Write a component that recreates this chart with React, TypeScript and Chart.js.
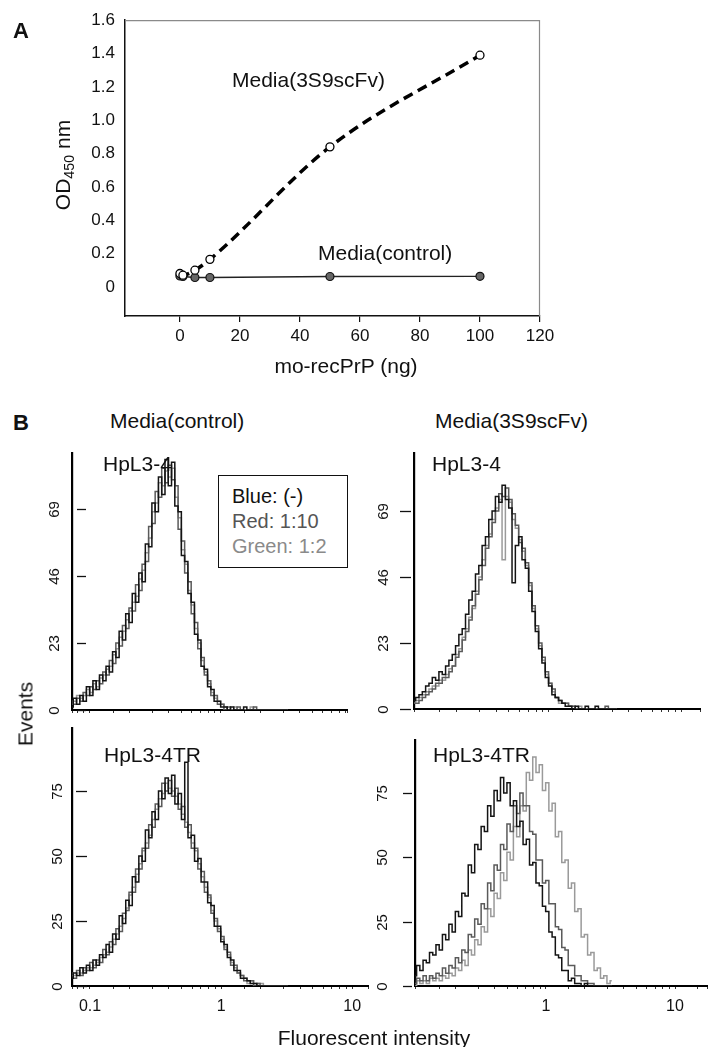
import React, { useEffect, useRef } from "react";
import { Chart, registerables } from "chart.js";

Chart.register(...registerables);

const FONT = "'Liberation Sans', Arial, Helvetica, sans-serif";
Chart.defaults.font.family = FONT;

// ---------- Panel A data ----------
const A_X = [0, 1, 5, 10, 50, 100];
const A_SCFV = [0.08, 0.07, 0.1, 0.165, 0.84, 1.39];
const A_CTRL = [0.065, 0.062, 0.056, 0.056, 0.062, 0.063];
const A_XTICKS = [0, 20, 40, 60, 80, 100, 120];
const A_YTICKS = [0, 0.2, 0.4, 0.6, 0.8, 1.0, 1.2, 1.4, 1.6];

// ---------- Panel B data (fluorescence channels, log scale) ----------
const CH = [
  0.0724, 0.0767, 0.0813, 0.0861, 0.0912, 0.0966, 0.1023, 0.1084, 0.1148, 0.1216,
  0.1288, 0.1365, 0.1445, 0.1531, 0.1622, 0.1718, 0.182, 0.1928, 0.2042, 0.2163,
  0.2291, 0.2427, 0.257, 0.2723, 0.2884, 0.3055, 0.3236, 0.3428, 0.3631, 0.3846,
  0.4074, 0.4315, 0.4571, 0.4842, 0.5129, 0.5433, 0.5754, 0.6095, 0.6457, 0.6839,
  0.7244, 0.7674, 0.8128, 0.861, 0.912, 0.9661, 1.0233, 1.0839, 1.1482, 1.2162,
  1.2882, 1.3646, 1.4454, 1.5311, 1.6218, 1.7179, 1.8197, 1.9275, 2.0417, 2.1627,
  2.2909, 2.4266, 2.5704, 2.7227, 2.884, 3.0549, 3.2359,
];

// Media(control), HpL3-4
const TL_BLUE = [
  1, 4, 2, 5, 3, 8, 5, 10, 7, 12,
  10, 15, 13, 20, 18, 27, 24, 33, 30, 40,
  37, 47, 44, 57, 56, 71, 68, 80, 74, 86,
  77, 85, 70, 68, 53, 51, 40, 37, 26, 24,
  15, 14, 8, 7, 3, 3, 1, 1, 0, 1,
  0, 0, 0, 1, 0, 0, 0, 0, 0, 0,
  0, 0, 0, 0, 0, 0, 0,
];
const TL_RED = [
  3, 2, 4, 3, 6, 5, 8, 7, 10, 9,
  13, 12, 17, 16, 23, 22, 29, 28, 35, 34,
  43, 41, 50, 51, 63, 64, 75, 73, 83, 78,
  84, 79, 77, 62, 58, 47, 44, 33, 30, 21,
  18, 12, 10, 5, 5, 2, 2, 0, 1, 0,
  0, 1, 0, 0, 0, 0, 1, 0, 0, 0,
  0, 0, 0, 0, 0, 0, 0,
];
const TL_GREEN = [
  2, 3, 5, 4, 5, 7, 6, 9, 8, 11,
  12, 14, 15, 19, 21, 25, 27, 31, 34, 37,
  39, 45, 48, 54, 59, 68, 71, 78, 77, 82,
  80, 83, 73, 66, 55, 50, 41, 36, 28, 23,
  17, 13, 9, 6, 4, 3, 2, 1, 0, 0,
  1, 0, 0, 0, 0, 1, 0, 0, 0, 0,
  0, 0, 0, 0, 0, 0, 0,
];

// Media(3S9scFv), HpL3-4
const TR_BLUE = [
  1, 1, 2, 1, 2, 3, 4, 5, 6, 8,
  9, 11, 10, 13, 12, 15, 17, 19, 22, 26,
  28, 33, 38, 41, 47, 50, 57, 60, 66, 69,
  74, 72, 78, 73, 70, 44, 57, 60, 52, 49,
  41, 34, 27, 21, 16, 11, 8, 5, 4, 3,
  2, 1, 1, 0, 1, 0, 0, 1, 0, 0,
  1, 0, 0, 0, 0, 0, 0,
];
const TR_RED = [
  0, 1, 1, 2, 1, 2, 2, 3, 4, 5,
  6, 7, 9, 9, 11, 11, 13, 15, 18, 20,
  24, 27, 31, 36, 40, 45, 50, 56, 60, 65,
  69, 75, 74, 77, 73, 68, 64, 58, 56, 51,
  44, 36, 29, 23, 18, 13, 9, 7, 4, 3,
  2, 2, 1, 1, 0, 0, 0, 0, 0, 0,
  0, 0, 0, 1, 0, 0, 0,
];
const TR_GREEN = [
  1, 0, 1, 1, 2, 2, 3, 4, 5, 6,
  7, 8, 8, 10, 10, 12, 14, 15, 19, 21,
  25, 28, 32, 35, 41, 46, 52, 57, 61, 66,
  70, 73, 52, 74, 72, 66, 63, 59, 55, 50,
  43, 35, 28, 22, 17, 12, 9, 6, 4, 2,
  2, 2, 1, 1, 0, 1, 0, 0, 0, 0,
  0, 0, 0, 0, 0, 0, 0,
];

// Media(control), HpL3-4TR
const BL_BLUE = [
  3, 5, 4, 7, 5, 8, 6, 10, 8, 12,
  11, 16, 13, 20, 18, 27, 24, 33, 31, 42,
  40, 50, 48, 60, 57, 67, 64, 75, 72, 80,
  74, 81, 70, 74, 64, 86, 57, 58, 48, 49,
  40, 40, 32, 31, 23, 23, 17, 16, 11, 10,
  6, 6, 3, 3, 2, 1, 1, 0, 0, 0,
  0, 0, 0, 0, 0, 0, 0,
];
const BL_RED = [
  5, 3, 6, 4, 7, 6, 9, 7, 10, 9,
  14, 12, 17, 16, 22, 21, 28, 29, 36, 36,
  45, 45, 53, 53, 62, 61, 70, 69, 78, 75,
  79, 73, 76, 68, 69, 61, 62, 53, 53, 45,
  44, 36, 35, 28, 26, 21, 19, 14, 13, 8,
  8, 5, 4, 2, 2, 2, 0, 1, 0, 0,
  0, 0, 0, 0, 0, 0, 0,
];
const BL_GREEN = [
  4, 4, 5, 5, 6, 7, 7, 8, 9, 11,
  12, 13, 15, 18, 20, 23, 26, 30, 35, 38,
  43, 47, 52, 55, 58, 64, 68, 72, 74, 78,
  76, 75, 73, 70, 66, 63, 59, 55, 52, 47,
  42, 38, 34, 29, 25, 22, 18, 15, 12, 9,
  7, 5, 4, 3, 1, 2, 1, 1, 1, 0,
  0, 0, 0, 0, 0, 0, 0,
];

// Media(3S9scFv), HpL3-4TR
const BR_BLUE = [
  3, 4, 3, 5, 4, 4, 8, 6, 10, 9,
  13, 12, 16, 14, 20, 18, 24, 21, 29, 27,
  36, 35, 47, 44, 55, 53, 62, 60, 70, 66,
  76, 72, 81, 75, 79, 70, 72, 62, 64, 55,
  57, 47, 48, 40, 39, 31, 29, 21, 19, 12,
  11, 6, 6, 2, 3, 1, 1, 0, 1, 0,
  0, 0, 0, 0, 0, 0, 0,
];
const BR_RED = [
  1, 1, 2, 1, 2, 1, 3, 2, 4, 2,
  4, 3, 5, 4, 7, 5, 8, 7, 11, 9,
  14, 13, 20, 19, 26, 24, 32, 30, 40, 37,
  47, 45, 55, 53, 63, 60, 70, 67, 75, 70,
  70, 60, 59, 49, 49, 40, 41, 32, 32, 23,
  22, 15, 14, 8, 8, 4, 4, 2, 2, 1,
  1, 0, 0, 0, 0, 0, 0,
];
const BR_GREEN = [
  0, 1, 0, 1, 1, 0, 2, 1, 2, 1,
  3, 2, 3, 2, 4, 3, 5, 4, 7, 6,
  10, 8, 14, 12, 18, 16, 23, 21, 30, 27,
  36, 34, 44, 41, 52, 49, 62, 58, 70, 68,
  83, 80, 89, 83, 86, 76, 79, 68, 71, 58,
  60, 48, 49, 38, 40, 29, 30, 19, 20, 12,
  13, 6, 7, 3, 4, 1, 2,
];

const TOP_YTICKS = [0, 23, 46, 69];
const BOT_YTICKS = [0, 25, 50, 75];

const C_BLUE = "#141414";
const C_RED = "#5a5a5a";
const C_GREEN = "#9a9a9a";

// ---------- plugins ----------
const yLabelPlugin = {
  id: "yLabels",
  afterDraw(chart: any, _args: any, opts: any) {
    const ys = chart.scales.y;
    const left = chart.chartArea.left;
    const ctx = chart.ctx as CanvasRenderingContext2D;
    ctx.save();
    ctx.strokeStyle = "#111";
    ctx.lineWidth = 1.3;
    ctx.fillStyle = "#111";
    ctx.font = `${opts.size}px ${FONT}`;
    ctx.textAlign = "center";
    ctx.textBaseline = "middle";
    for (const v of opts.ticks as number[]) {
      const py = Math.round(ys.getPixelForValue(v)) + 0.5;
      ctx.beginPath();
      ctx.moveTo(left + opts.t0, py);
      ctx.lineTo(left + opts.t1, py);
      ctx.stroke();
      ctx.save();
      ctx.translate(left + opts.lx, py);
      ctx.rotate(-Math.PI / 2);
      ctx.fillText(String(v), 0, 0);
      ctx.restore();
    }
    ctx.restore();
  },
};

const framePlugin = {
  id: "frame",
  beforeDatasetsDraw(chart: any) {
    const { left, right, top, bottom } = chart.chartArea;
    const ctx = chart.ctx as CanvasRenderingContext2D;
    ctx.save();
    ctx.strokeStyle = "#8a8a8a";
    ctx.lineWidth = 1.2;
    ctx.beginPath();
    ctx.moveTo(left, top + 0.5);
    ctx.lineTo(right - 0.5, top + 0.5);
    ctx.lineTo(right - 0.5, bottom);
    ctx.stroke();
    ctx.restore();
  },
};

function cfgA(): any {
  return {
    type: "line",
    data: {
      datasets: [
        {
          label: "Media(3S9scFv)",
          data: A_X.map((x, i) => ({ x, y: A_SCFV[i] })),
          borderColor: "#000",
          borderWidth: 3.5,
          borderDash: [10, 6],
          cubicInterpolationMode: "monotone",
          pointRadius: 4,
          pointBackgroundColor: "#fff",
          pointBorderColor: "#000",
          pointBorderWidth: 1.3,
        },
        {
          label: "Media(control)",
          data: A_X.map((x, i) => ({ x, y: A_CTRL[i] })),
          borderColor: "#222",
          borderWidth: 1.3,
          pointRadius: 4,
          pointBackgroundColor: "#666",
          pointBorderColor: "#111",
          pointBorderWidth: 1.2,
        },
      ],
    },
    options: {
      animation: false,
      responsive: false,
      devicePixelRatio: 1,
      layout: { padding: { left: 0, top: 16, right: 175, bottom: 0 } },
      plugins: { legend: { display: false }, tooltip: { enabled: false } },
      scales: {
        x: {
          type: "linear",
          min: -18.3,
          max: 120,
          afterBuildTicks: (s: any) => {
            s.ticks = A_XTICKS.map((v) => ({ value: v }));
          },
          afterFit: (s: any) => {
            s.height = 74;
          },
          ticks: { font: { size: 17 }, color: "#111", padding: 4, maxRotation: 0, autoSkip: false },
          grid: { drawOnChartArea: false, drawTicks: true, tickLength: 6, color: "#111", lineWidth: 1.2 },
          border: { display: true, color: "#111", width: 1.5 },
        },
        y: {
          type: "linear",
          min: -0.175,
          max: 1.6,
          afterBuildTicks: (s: any) => {
            s.ticks = A_YTICKS.map((v) => ({ value: v }));
          },
          afterFit: (s: any) => {
            s.width = 125;
          },
          ticks: {
            font: { size: 17 },
            color: "#111",
            padding: 10,
            callback: (v: any) => (Number(v) === 0 ? "0" : Number(v).toFixed(1)),
          },
          grid: { display: false, drawTicks: false },
          border: { display: true, color: "#111", width: 1.5 },
        },
      },
    },
    plugins: [framePlugin],
  };
}

type HistP = {
  blue: number[];
  red: number[];
  green: number[];
  pl: number;
  pt: number;
  pr: number;
  xh: number;
  xmin: number;
  xmax: number;
  ymax: number;
  showX: boolean;
  yticks: number[];
  t0: number;
  t1: number;
  lx: number;
};

const decadeLabel = (v: any) => {
  const n = Number(v);
  const l = Math.log10(n);
  if (Math.abs(l - Math.round(l)) < 1e-6) return n < 1 ? "0.1" : String(Math.round(n));
  return "";
};

function cfgHist(p: HistP): any {
  const ds = (arr: number[], color: string) => ({
    data: CH.map((x, i) => ({ x, y: arr[i] })),
    borderColor: color,
    borderWidth: 1.5,
    pointRadius: 0,
    stepped: "middle",
    fill: false,
  });
  return {
    type: "line",
    data: { datasets: [ds(p.blue, C_BLUE), ds(p.red, C_RED), ds(p.green, C_GREEN)] },
    options: {
      animation: false,
      responsive: false,
      devicePixelRatio: 1,
      layout: { padding: { left: p.pl, top: p.pt, right: p.pr, bottom: 0 } },
      plugins: {
        legend: { display: false },
        tooltip: { enabled: false },
        yLabels: { ticks: p.yticks, t0: p.t0, t1: p.t1, lx: p.lx, size: 15 },
      },
      scales: {
        x: {
          type: "logarithmic",
          min: p.xmin,
          max: p.xmax,
          afterFit: (s: any) => {
            s.height = p.xh;
          },
          ticks: {
            display: p.showX,
            autoSkip: false,
            maxRotation: 0,
            font: { size: 16 },
            color: "#111",
            padding: 8,
            callback: decadeLabel,
          },
          grid: { drawOnChartArea: false, drawTicks: true, tickLength: 3, color: "#333", lineWidth: 1 },
          border: { display: true, color: "#000", width: 2 },
        },
        y: {
          type: "linear",
          min: 0,
          max: p.ymax,
          afterFit: (s: any) => {
            s.width = 0;
          },
          ticks: { display: false },
          grid: { display: false, drawTicks: false },
          border: { display: true, color: "#000", width: 2.2 },
        },
      },
    },
    plugins: [yLabelPlugin],
  };
}

function Txt(props: {
  x: number;
  y: number;
  size?: number;
  color?: string;
  bold?: boolean;
  rot?: boolean;
  center?: boolean;
  children: React.ReactNode;
}) {
  const { x, y, size = 21, color = "#111", bold = false, rot = false, center = false } = props;
  const tr = rot ? "translate(-50%,-50%) rotate(-90deg)" : center ? "translate(-50%,-50%)" : "translateY(-50%)";
  return (
    <div
      style={{
        position: "absolute",
        left: x,
        top: y,
        transform: tr,
        fontSize: size,
        lineHeight: 1,
        color,
        fontWeight: bold ? 700 : 400,
        whiteSpace: "nowrap",
      }}
    >
      {props.children}
    </div>
  );
}

export default function App() {
  const refA = useRef<HTMLCanvasElement>(null);
  const refTL = useRef<HTMLCanvasElement>(null);
  const refTR = useRef<HTMLCanvasElement>(null);
  const refBL = useRef<HTMLCanvasElement>(null);
  const refBR = useRef<HTMLCanvasElement>(null);

  useEffect(() => {
    const charts: Chart[] = [];
    charts.push(new Chart(refA.current!, cfgA()));
    charts.push(
      new Chart(
        refTL.current!,
        cfgHist({
          blue: TL_BLUE, red: TL_RED, green: TL_GREEN,
          pl: 72, pt: 13, pr: 13, xh: 10,
          xmin: 0.0729, xmax: 9.16, ymax: 88.2, showX: false,
          yticks: TOP_YTICKS, t0: 5, t1: 14, lx: -17,
        })
      )
    );
    charts.push(
      new Chart(
        refTR.current!,
        cfgHist({
          blue: TR_BLUE, red: TR_RED, green: TR_GREEN,
          pl: 54, pt: 13, pr: 15, xh: 11,
          xmin: 0.0966, xmax: 13.7, ymax: 89.2, showX: false,
          yticks: TOP_YTICKS, t0: -14, t1: -3, lx: -30,
        })
      )
    );
    charts.push(
      new Chart(
        refBL.current!,
        cfgHist({
          blue: BL_BLUE, red: BL_RED, green: BL_GREEN,
          pl: 72, pt: 8, pr: 12, xh: 61,
          xmin: 0.0729, xmax: 13.2, ymax: 99.2, showX: true,
          yticks: BOT_YTICKS, t0: 4, t1: 15, lx: -14.5,
        })
      )
    );
    charts.push(
      new Chart(
        refBR.current!,
        cfgHist({
          blue: BR_BLUE, red: BR_RED, green: BR_GREEN,
          pl: 55, pt: 20, pr: 0, xh: 61,
          xmin: 0.0966, xmax: 17.7, ymax: 95.6, showX: true,
          yticks: BOT_YTICKS, t0: -12, t1: -3, lx: -32.5,
        })
      )
    );
    return () => charts.forEach((c) => c.destroy());
  }, []);

  const cv = (l: number, t: number): React.CSSProperties => ({ position: "absolute", left: l, top: t });

  return (
    <div
      style={{
        position: "absolute",
        left: 0,
        top: 0,
        width: 715,
        height: 1047,
        background: "#fff",
        overflow: "hidden",
        fontFamily: FONT,
      }}
    >
      <canvas ref={refA} width={715} height={390} style={cv(0, 0)} />
      <canvas ref={refTL} width={360} height={280} style={cv(0, 440)} />
      <canvas ref={refTR} width={355} height={280} style={cv(360, 440)} />
      <canvas ref={refBL} width={380} height={327} style={cv(0, 720)} />
      <canvas ref={refBR} width={355} height={327} style={cv(360, 720)} />

      {/* Panel A texts */}
      <Txt x={13} y={31} size={22} bold>A</Txt>
      <Txt x={64} y={165} rot>
        <span>
          OD<span style={{ fontSize: "0.68em", verticalAlign: "-0.3em" }}>450</span> nm
        </span>
      </Txt>
      <Txt x={346} y={365} center>mo-recPrP (ng)</Txt>
      <Txt x={232} y={79}>Media(3S9scFv)</Txt>
      <Txt x={318} y={252}>Media(control)</Txt>

      {/* Panel B texts */}
      <Txt x={13} y={423} size={22} bold>B</Txt>
      <Txt x={110} y={420}>Media(control)</Txt>
      <Txt x={435} y={420}>Media(3S9scFv)</Txt>
      <Txt x={103} y={463}>HpL3-4</Txt>
      <Txt x={432} y={463}>HpL3-4</Txt>
      <Txt x={104} y={754}>HpL3-4TR</Txt>
      <Txt x={433} y={754}>HpL3-4TR</Txt>
      <Txt x={25} y={714} rot>Events</Txt>
      <Txt x={374} y={1037} center>Fluorescent intensity</Txt>

      {/* Legend box */}
      <div
        style={{
          position: "absolute",
          left: 218,
          top: 475,
          width: 128,
          height: 91,
          border: "1px solid #111",
          background: "#fff",
        }}
      />
      <Txt x={232} y={496} size={20} color="#111">Blue: (-)</Txt>
      <Txt x={232} y={521} size={20} color="#555">Red: 1:10</Txt>
      <Txt x={232} y={546} size={20} color="#8a8a8a">Green: 1:2</Txt>
    </div>
  );
}
